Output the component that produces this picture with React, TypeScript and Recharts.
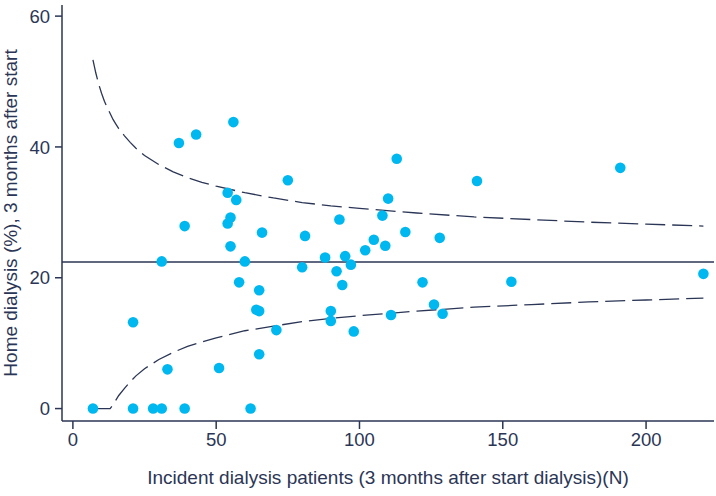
import React from 'react';
import {
  ScatterChart,
  Scatter,
  XAxis,
  YAxis,
  ReferenceLine,
  Label,
} from 'recharts';

// incident patients per centre (N) and share on home dialysis (%)
const hospitalN = [
  7, 21, 21, 28, 31, 31, 33, 39, 37, 43, 39, 56, 54, 57, 55, 54, 66, 55, 60, 58,
  65, 64, 65, 71, 65, 51, 62, 75, 113, 141, 110, 108, 93, 116, 81, 128, 105, 109,
  102, 88, 95, 97, 80, 92, 94, 122, 90, 90, 98, 111, 126, 129, 191, 220, 153,
];
const homePct = [
  0, 13.2, 0, 0, 0, 22.5, 6.0, 0, 40.6, 41.9, 27.9, 43.8, 33.0, 31.9, 29.2, 28.3,
  26.9, 24.8, 22.5, 19.3, 18.1, 15.1, 14.9, 12.0, 8.3, 6.2, 0, 34.9, 38.2, 34.8,
  32.1, 29.5, 28.9, 27.0, 26.4, 26.1, 25.8, 24.9, 24.2, 23.1, 23.3, 22.0, 21.6,
  21.0, 18.9, 19.3, 14.9, 13.4, 11.8, 14.3, 15.9, 14.5, 36.8, 20.6, 19.4,
];

// funnel limits
const limitN = [
  7, 8, 9, 10, 11, 12, 13, 14, 15, 16, 18, 20, 22, 25, 30, 35, 40, 45, 50, 60, 70,
  80, 90, 100, 120, 140, 160, 180, 200, 220,
];
const upperLimit = [
  53.3, 51.3, 49.6, 48.2, 47.0, 46.0, 45.1, 44.2, 43.5, 42.8, 41.7, 40.7, 39.8,
  38.7, 37.3, 36.2, 35.3, 34.6, 34.0, 33.0, 32.2, 31.5, 31.0, 30.6, 29.9, 29.3,
  28.9, 28.5, 28.2, 27.9,
];
const lowerLimit = [
  0, 0, 0, 0, 0, 0, 0, 0.6, 1.3, 2.0, 3.1, 4.1, 5.0, 6.1, 7.5, 8.6, 9.5, 10.2,
  10.8, 11.9, 12.6, 13.3, 13.8, 14.2, 14.9, 15.5, 15.9, 16.3, 16.6, 16.9,
];
const meanPct = 22.4;

const xTicks = [0, 50, 100, 150, 200];
const yTicks = [0, 20, 40, 60];

const INK = '#2b3656';
const DOT = '#00b8f0';
const FONT = '"Liberation Sans", Arial, sans-serif';

const hospitals = hospitalN.map((n, i) => ({ n, pct: homePct[i] }));
const upperData = limitN.map((n, i) => ({ n, pct: upperLimit[i] }));
const lowerData = limitN.map((n, i) => ({ n, pct: lowerLimit[i] }));

const dashLine = { stroke: INK, strokeWidth: 1.3, strokeDasharray: '20 7' };
const noPoint = () => <g />;

const HospitalDot = (props: any) => (
  <circle cx={props.cx} cy={props.cy} r={5.3} fill={DOT} />
);

const App = () => {
  return (
    <div style={{ position: 'absolute', left: 0, top: 0 }}>
      <ScatterChart
        width={716}
        height={496}
        margin={{ top: 5, right: 2, bottom: 0, left: 0 }}
        style={{ fontFamily: FONT }}
      >
        <XAxis
          type="number"
          dataKey="n"
          domain={[-3.8, 223.7]}
          ticks={xTicks}
          allowDataOverflow
          height={75}
          tickSize={8}
          tickMargin={4}
          stroke={INK}
          strokeWidth={1.5}
          tick={{ fill: INK, fontSize: 18.5, fontFamily: FONT }}
        >
          <Label
            content={() => (
              <text
                x={388}
                y={484}
                textAnchor="middle"
                fill={INK}
                fontSize={19}
                fontFamily={FONT}
              >
                Incident dialysis patients (3 months after start dialysis)(N)
              </text>
            )}
          />
        </XAxis>
        <YAxis
          type="number"
          dataKey="pct"
          domain={[-1.9, 61.7]}
          ticks={yTicks}
          allowDataOverflow
          width={62}
          tickSize={7}
          tickMargin={5}
          stroke={INK}
          strokeWidth={1.5}
          tick={{ fill: INK, fontSize: 18.5, fontFamily: FONT }}
        >
          <Label
            content={() => (
              <text
                x={17}
                y={213}
                transform="rotate(-90 17 213)"
                textAnchor="middle"
                fill={INK}
                fontSize={19}
                fontFamily={FONT}
              >
                Home dialysis (%), 3 months after start
              </text>
            )}
          />
        </YAxis>
        <ReferenceLine y={meanPct} stroke={INK} strokeWidth={1.6} />
        <Scatter
          data={upperData}
          line={dashLine}
          lineType="joint"
          shape={noPoint}
          isAnimationActive={false}
        />
        <Scatter
          data={lowerData}
          line={dashLine}
          lineType="joint"
          shape={noPoint}
          isAnimationActive={false}
        />
        <Scatter data={hospitals} shape={HospitalDot} isAnimationActive={false} />
      </ScatterChart>
    </div>
  );
};

export default App;
